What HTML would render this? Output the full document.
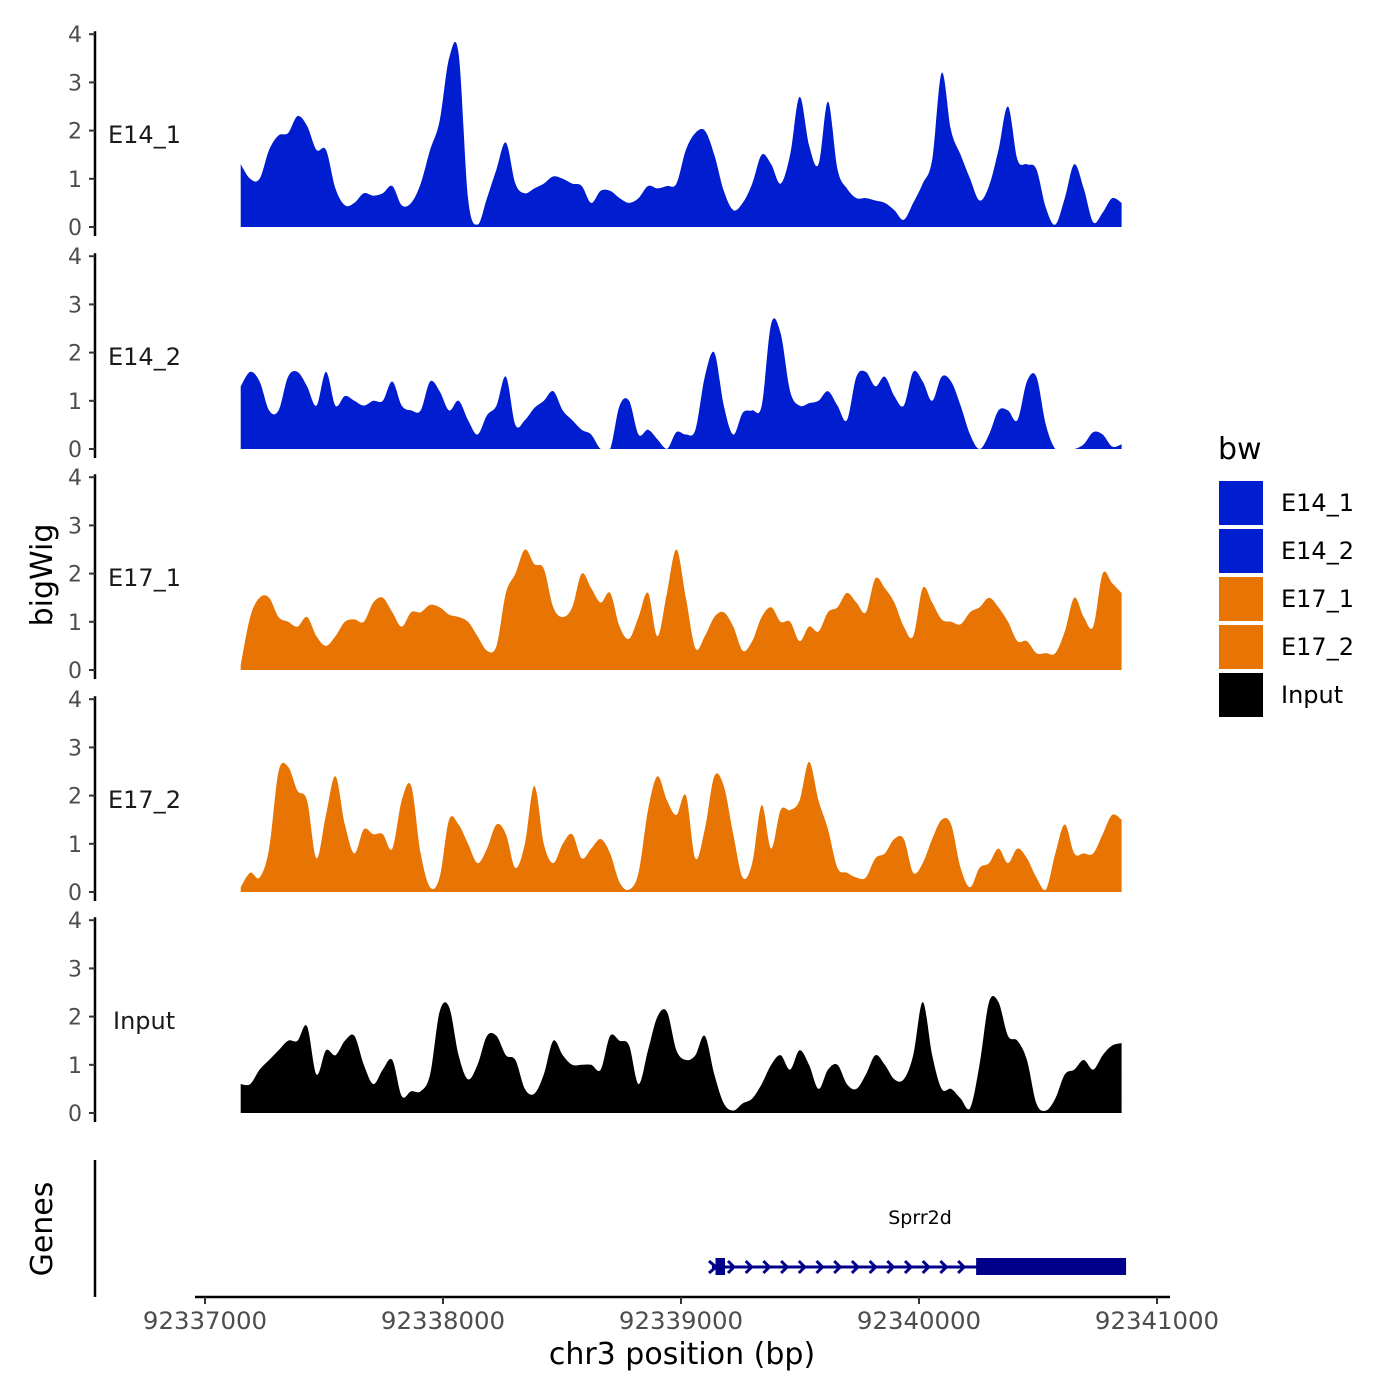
<!DOCTYPE html>
<html><head><meta charset="utf-8"><style>
html,body{margin:0;padding:0;background:#fff;}
svg{display:block;font-family:"DejaVu Sans","Liberation Sans",sans-serif;}
</style></head><body>
<svg id="chart" width="1400" height="1400" xmlns="http://www.w3.org/2000/svg"></svg>
<script>
const startBp = 92337150;
const stepBp = 40;
const trackNames = ["E14_1","E14_2","E17_1","E17_2","Input"];
const trackColors = ["#001ECF","#001ECF","#E87503","#E87503","#000000"];
const e14_1 = [1.3,1.0,1.0,1.6,1.9,1.95,2.3,2.1,1.6,1.6,0.8,0.45,0.5,0.7,0.65,0.7,0.85,0.45,0.5,0.9,1.6,2.2,3.5,3.6,0.6,0.05,0.6,1.2,1.75,0.9,0.7,0.8,0.9,1.05,1.0,0.9,0.85,0.5,0.75,0.75,0.6,0.5,0.6,0.85,0.8,0.85,0.9,1.6,1.95,2.0,1.5,0.75,0.35,0.5,0.9,1.5,1.3,0.9,1.5,2.7,1.7,1.3,2.6,1.2,0.8,0.6,0.6,0.55,0.5,0.35,0.15,0.5,0.9,1.4,3.2,2.0,1.5,1.0,0.55,0.85,1.6,2.5,1.4,1.3,1.2,0.4,0.05,0.6,1.3,0.8,0.1,0.3,0.6,0.5];
const e14_2 = [1.3,1.6,1.4,0.8,0.8,1.5,1.6,1.3,0.9,1.6,0.9,1.1,1.0,0.9,1.0,1.0,1.4,0.9,0.8,0.8,1.4,1.2,0.8,1.0,0.6,0.3,0.7,0.9,1.5,0.5,0.6,0.85,1.0,1.2,0.8,0.6,0.4,0.3,0,0,0.9,1.0,0.3,0.4,0.2,0,0.35,0.3,0.4,1.5,2.0,0.9,0.3,0.75,0.8,0.9,2.6,2.4,1.2,0.9,0.95,1.0,1.2,0.9,0.6,1.5,1.6,1.3,1.5,1.1,0.9,1.6,1.4,1.0,1.5,1.4,0.9,0.3,0,0.3,0.8,0.8,0.6,1.4,1.5,0.5,0,0,0,0.1,0.35,0.3,0.05,0.1];
const e17_1 = [0.1,1.1,1.5,1.5,1.1,1.0,0.9,1.1,0.7,0.5,0.7,1.0,1.05,1.0,1.4,1.5,1.2,0.9,1.2,1.2,1.35,1.3,1.15,1.1,1.0,0.7,0.4,0.5,1.6,2.0,2.5,2.2,2.1,1.3,1.1,1.3,2.0,1.7,1.4,1.6,0.9,0.65,1.1,1.6,0.7,1.6,2.5,1.5,0.45,0.7,1.1,1.2,0.9,0.4,0.6,1.1,1.3,1.0,1.0,0.6,0.9,0.8,1.2,1.3,1.6,1.4,1.2,1.9,1.7,1.4,0.9,0.7,1.7,1.4,1.05,1.0,0.95,1.2,1.3,1.5,1.3,1.0,0.6,0.6,0.35,0.35,0.35,0.8,1.5,1.1,0.9,2.0,1.8,1.6];
const e17_2 = [0.1,0.4,0.3,0.9,2.5,2.6,2.1,1.9,0.7,1.6,2.4,1.4,0.8,1.3,1.2,1.2,0.9,1.9,2.2,0.8,0.1,0.3,1.5,1.4,1.0,0.6,0.9,1.4,1.2,0.5,1.0,2.2,1.0,0.6,1.0,1.2,0.7,0.9,1.1,0.8,0.2,0.05,0.4,1.7,2.4,1.9,1.6,2.0,0.7,1.3,2.4,2.2,1.2,0.3,0.6,1.8,0.9,1.7,1.7,1.9,2.7,1.9,1.3,0.5,0.4,0.3,0.3,0.7,0.8,1.1,1.1,0.4,0.6,1.1,1.5,1.4,0.5,0.1,0.5,0.6,0.9,0.6,0.9,0.7,0.3,0.05,0.8,1.4,0.8,0.8,0.8,1.2,1.6,1.5];
const input = [0.6,0.6,0.9,1.1,1.3,1.5,1.5,1.8,0.8,1.3,1.2,1.5,1.6,1.0,0.6,0.9,1.1,0.35,0.45,0.45,0.8,2.1,2.2,1.2,0.7,1.0,1.6,1.6,1.2,1.1,0.5,0.4,0.8,1.5,1.2,1.0,1.0,1.0,0.9,1.6,1.5,1.4,0.6,1.3,2.0,2.1,1.3,1.1,1.2,1.6,0.8,0.2,0.05,0.2,0.3,0.6,1.0,1.2,0.9,1.3,1.0,0.5,0.9,1.0,0.6,0.5,0.8,1.2,1.0,0.7,0.7,1.2,2.3,1.2,0.5,0.5,0.3,0.1,1.0,2.3,2.3,1.6,1.5,1.1,0.2,0.05,0.3,0.8,0.9,1.1,0.9,1.2,1.4,1.45];
const trackData = [e14_1,e14_2,e17_1,e17_2,input];
const yTicks = [0,1,2,3,4];
const xTicks = [92337000,92338000,92339000,92340000,92341000];
const xTickLabels = ["92337000","92338000","92339000","92340000","92341000"];
const geneStart = 92339130, geneEnd = 92340870, exon1 = [92339145,92339185], exon2 = [92340240,92340870];

const NS="http://www.w3.org/2000/svg";
const svg=document.getElementById('chart');
function xs(bp){return 205+(bp-92337000)*0.238;}
const baselines=[227,449,670,892,1113];
const pxPerUnit=48.2;
function ys(t,v){return baselines[t]-v*pxPerUnit;}
function mk(tag,attrs,parent){const e=document.createElementNS(NS,tag);for(const k in attrs)e.setAttribute(k,attrs[k]);(parent||svg).appendChild(e);return e;}

for(let t=0;t<5;t++){
  const g=mk('g',{});
  
  
  const vals=trackData[t];
  const pts=vals.map((v,i)=>[xs(startBp+i*stepBp*0.995),ys(t,v)]);
  let d='M'+pts[0][0].toFixed(1)+','+baselines[t]+' L'+pts[0][0].toFixed(1)+','+pts[0][1].toFixed(1);
  for(let i=0;i<pts.length-1;i++){
    const p0=pts[Math.max(0,i-1)],p1=pts[i],p2=pts[i+1],p3=pts[Math.min(pts.length-1,i+2)];
    const c1x=p1[0]+(p2[0]-p0[0])/6, c1y=Math.min(baselines[t],p1[1]+(p2[1]-p0[1])/6);
    const c2x=p2[0]-(p3[0]-p1[0])/6, c2y=Math.min(baselines[t],p2[1]-(p3[1]-p1[1])/6);
    d+=` C${c1x.toFixed(1)},${c1y.toFixed(1)} ${c2x.toFixed(1)},${c2y.toFixed(1)} ${p2[0].toFixed(1)},${p2[1].toFixed(1)}`;
  }
  d+=' L'+pts[pts.length-1][0].toFixed(1)+','+baselines[t]+' Z';
  const p=mk('path',{d:d,fill:trackColors[t]},g);
  
  
  const ax=mk('line',{x1:95,x2:95,y1:ys(t,4)-3,y2:baselines[t]+9,stroke:'#000','stroke-width':2.5},g);
  
  
  yTicks.forEach(v=>{
    const y=ys(t,v);
    mk('line',{x1:89,x2:95,y1:y,y2:y,stroke:'#333','stroke-width':2},g);
    const tx=mk('text',{x:82,y:y+8,'text-anchor':'end','font-size':22,fill:'#4d4d4d'},g);
    tx.textContent=v;
    
    
  });
  const lb=mk('text',{x:t==4?113:108,y:baselines[t]-84,'font-size':24,fill:'#1a1a1a'},g);
  lb.textContent=trackNames[t];
  
  
}

// gene track
const gg=mk('g',{});


mk('line',{x1:95,x2:95,y1:1160,y2:1297,stroke:'#000','stroke-width':2.5},gg);
mk('line',{x1:xs(geneStart),x2:xs(geneEnd),y1:1267,y2:1267,stroke:'#00008B','stroke-width':3},gg);
mk('rect',{x:xs(exon1[0]),y:1258,width:xs(exon1[1])-xs(exon1[0]),height:17,fill:'#00008B'},gg);
mk('rect',{x:xs(exon2[0]),y:1258,width:xs(exon2[1])-xs(exon2[0]),height:17,fill:'#00008B'},gg);
for(let x=731;x<972;x+=17.7){mk('path',{d:`M${x-3},1261 L${x+3},1267 L${x-3},1273`,stroke:'#00008B','stroke-width':3,fill:'none'},gg);}
mk('path',{d:`M709,1261 L716,1267 L709,1273`,stroke:'#00008B','stroke-width':3,fill:'none'},gg);
const gl=mk('text',{x:920,y:1224,'text-anchor':'middle','font-size':19,fill:'#000'},gg);
gl.textContent='Sprr2d';



// x axis
const xa=mk('g',{});


mk('line',{x1:195,x2:1170,y1:1297,y2:1297,stroke:'#000','stroke-width':2.5},xa);
xTicks.forEach((v,i)=>{
  const x=xs(v);
  mk('line',{x1:x,x2:x,y1:1297,y2:1304,stroke:'#333','stroke-width':2},xa);
  const tx=mk('text',{x:x,y:1329,'text-anchor':'middle','font-size':24.4,fill:'#4d4d4d'},xa);
  tx.textContent=xTickLabels[i];
  
  
});
const xt=mk('text',{x:682,y:1364,'text-anchor':'middle','font-size':30,fill:'#000'});
xt.textContent='chr3 position (bp)';


const yt=mk('text',{x:0,y:0,'text-anchor':'middle','font-size':30,fill:'#000',transform:'translate(52,575) rotate(-90)'});
yt.textContent='bigWig';


const gt=mk('text',{x:0,y:0,'text-anchor':'middle','font-size':30,fill:'#000',transform:'translate(52,1229) rotate(-90)'});
gt.textContent='Genes';



// legend
const lg=mk('g',{});


const lt=mk('text',{x:1218,y:459,'font-size':30,fill:'#000'},lg);
lt.textContent='bw';


trackNames.forEach((n,i)=>{
  const y=481+i*48;
  const r=mk('rect',{x:1219,y:y,width:44,height:44,fill:trackColors[i]},lg);
  
  
  const tx=mk('text',{x:1281,y:y+30,'font-size':24,fill:'#000'},lg);
  tx.textContent=n;
  
  
});
</script>
</body></html>
